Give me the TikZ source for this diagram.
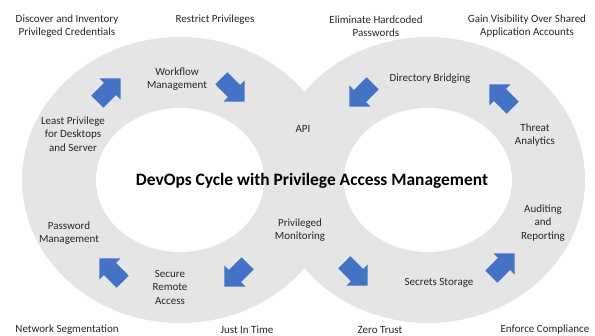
\documentclass[tikz,border=0pt]{standalone}
\usepackage{fontspec}
\setmainfont{Carlito}
\usepackage{tikz}

\definecolor{ringgray}{RGB}{229,229,229}
\definecolor{pamblue}{RGB}{68,114,196}

\tikzset{
    lbl/.style={align=center, font=\fontsize{11}{13.5}\selectfont, inner sep=0pt, text=black!85},
    titlelbl/.style={font=\fontsize{17.4}{20}\selectfont\bfseries, inner sep=0pt}
}

\begin{document}
\begin{tikzpicture}[x=1pt, y=1pt]
    \useasboundingbox (0,0) rectangle (595,336);

    % DOS ANELLS (el cicle)
    \fill[ringgray] (180,156) ellipse (158pt and 143pt);
    \fill[ringgray] (428,156) ellipse (157pt and 143pt);
    \fill[white] (180,156) ellipse (84pt and 72pt);
    \fill[white] (428,156) ellipse (84pt and 72pt);

    % FLETXES (centre / angle)
    \foreach \x/\y/\a in {
        109/246/45, 233/246/-45, 361/241/225, 501/240/135,
        111/66/135, 236/61/225, 356/62/-45, 503/71/45
    } {
        \fill[pamblue, shift={(\x,\y)}, rotate=\a]
            (-16.5,8.5) -- (1.5,8.5) -- (1.5,15) -- (16.5,0) -- (1.5,-15) -- (1.5,-8.5) -- (-16.5,-8.5) -- cycle;
    }

    % TITOL
    \node[titlelbl] (title) at (312,155) {DevOps Cycle with Privilege Access Management};

    % ETIQUETES DE FORA (dalt)
    \node[lbl] (discover) at (67,310) {Discover and Inventory\\Privileged Credentials};
    \node[lbl] (restrict) at (215,316) {Restrict Privileges};
    \node[lbl] (hardcoded) at (376,310) {Eliminate Hardcoded\\Passwords};
    \node[lbl] (visibility) at (527,310) {Gain Visibility Over Shared\\Application Accounts};

    % ETIQUETES DINS ELS ANELLS
    \node[lbl] (workflow) at (177,257) {Workflow\\Management};
    \node[lbl] (leastpriv) at (73,202) {Least Privilege\\for Desktops\\and Server};
    \node[lbl] (api) at (303,207) {API};
    \node[lbl] (bridging) at (430,257) {Directory Bridging};
    \node[lbl] (threat) at (535,201) {Threat\\Analytics};
    \node[lbl] (password) at (69,103) {Password\\Management};
    \node[lbl] (remote) at (170,49) {Secure\\Remote\\Access};
    \node[lbl] (monitoring) at (300,106) {Privileged\\Monitoring};
    \node[lbl] (auditing) at (543,113) {Auditing\\and\\Reporting};
    \node[lbl] (secrets) at (439,53) {Secrets Storage};

    % ETIQUETES DE FORA (baix)
    \node[lbl] (segmentation) at (67,6) {Network Segmentation};
    \node[lbl] (justintime) at (247,6) {Just In Time};
    \node[lbl] (zerotrust) at (380,6) {Zero Trust};
    \node[lbl] (compliance) at (545,6) {Enforce Compliance};

\end{tikzpicture}
\end{document}
